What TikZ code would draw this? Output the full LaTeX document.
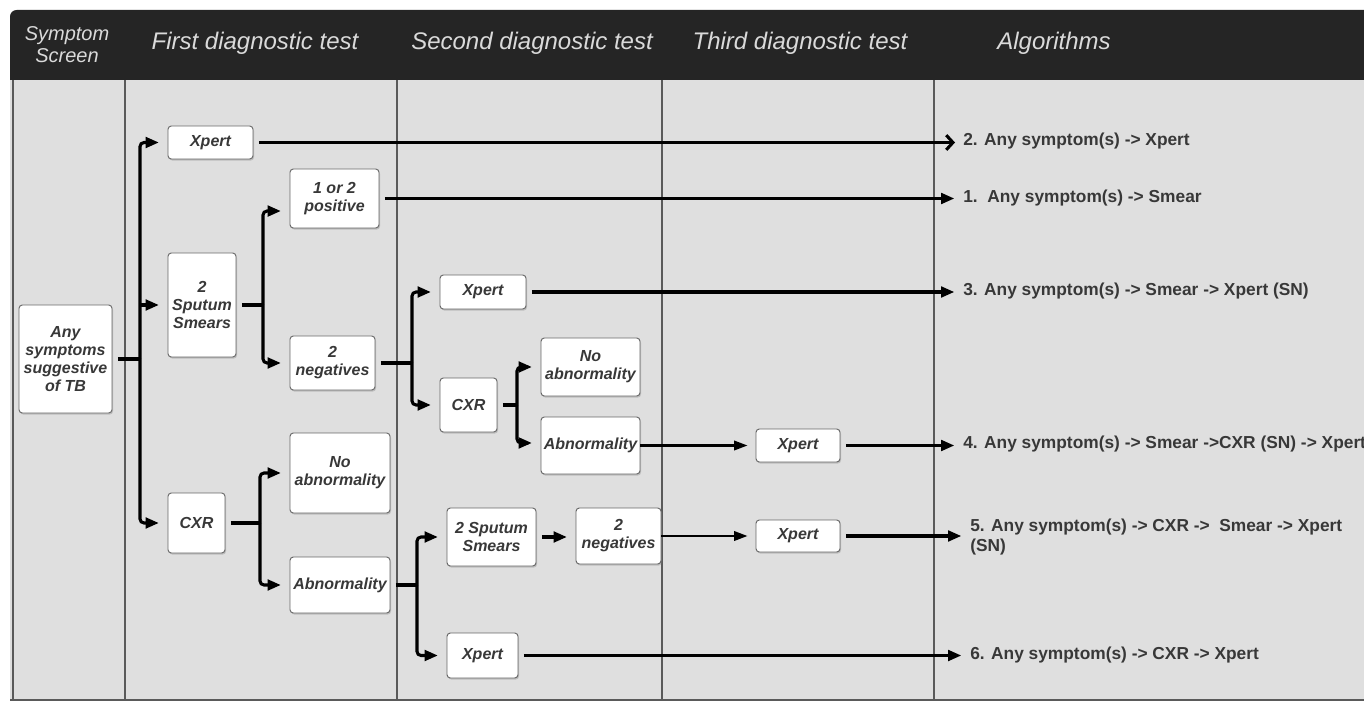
\documentclass[tikz,border=0pt]{standalone}
\usepackage{fontspec}
\setmainfont{Liberation Sans}
\usetikzlibrary{arrows.meta,shadows}
\definecolor{hdr}{HTML}{252525}
\definecolor{bodybg}{HTML}{DFDFDF}
\definecolor{colline}{HTML}{5A5A5A}
\definecolor{txt}{HTML}{383838}
\definecolor{hdrtxt}{HTML}{DADADA}
\begin{document}
\begin{tikzpicture}[x=0.75pt,y=-0.75pt,
  box/.style={draw=black!60, line width=0.7pt, fill=white, rounded corners=2.5pt,
    align=center, inner sep=1pt, text=txt,
    font=\fontsize{12}{13.5}\selectfont\bfseries\itshape,
    drop shadow={shadow xshift=0.8pt, shadow yshift=-1.2pt, opacity=0.35}},
  sz/.style 2 args={minimum width=#1*0.75pt, minimum height=#2*0.75pt},
  hd/.style={text=hdrtxt, align=center, font=\fontsize{18}{20}\selectfont\itshape},
  lab/.style={anchor=west, inner sep=0pt, text=txt, align=left,
    font=\fontsize{13}{15}\selectfont\bfseries},
  ln/.style={line width=2.3pt, rounded corners=3pt, draw=black},
  arr/.style={ln, -{Triangle[length=10pt,width=8pt]}, shorten >=6.5pt},
  thinarr/.style={line width=1.7pt, draw=black, -{Triangle[length=10pt,width=7pt]}, shorten >=6pt},
  barb/.style={line width=2.3pt, draw=black, -{Straight Barb[length=5pt,width=11pt]}, shorten >=6pt},
  colln/.style={draw=colline, line width=1.9pt}
]
\useasboundingbox (0,0) rectangle (1364,702);
\clip (0,0) rectangle (1364,702);

% background and header
\fill[bodybg] (10,80) rectangle (1370,700);
\fill[hdr] (10,80) [rounded corners=5pt] -- (10,10) [sharp corners] -- (1370,10) -- (1370,80) -- cycle;
\foreach \cx in {13,125,397,662,934} \draw[colln] (\cx,80) -- (\cx,700);
\draw[colln, line width=1.2pt] (10,700) -- (1370,700);

\node[hd, font=\fontsize{15}{17}\selectfont\itshape] (h0) at (67,44.5) {Symptom\\Screen};
\node[hd] (h1) at (255,43) {First diagnostic test};
\node[hd] (h2) at (532,43) {Second diagnostic test};
\node[hd] (h3) at (800,43) {Third diagnostic test};
\node[hd] (h4) at (1054,43) {Algorithms};

% boxes
\node[box, sz={93}{108}] (any) at (65.5,359) {Any\\symptoms\\suggestive\\of TB};
\node[box, sz={85}{33}] (xp1) at (210.5,142.5) {Xpert};
\node[box, sz={68}{104}] (sput) at (202,305) {2\\Sputum\\Smears};
\node[box, sz={89}{59}] (pos) at (334.5,198.5) {1 or 2\\positive};
\node[box, sz={85}{54}] (neg1) at (332.5,363) {2\\negatives};
\node[box, sz={86}{34}] (xp2) at (483,292) {Xpert};
\node[box, sz={57}{54}] (cxr2) at (468.5,405) {CXR};
\node[box, sz={99}{58}] (noab2) at (590.5,367) {No\\abnormality};
\node[box, sz={99}{57}] (abn2) at (590.5,445.5) {Abnormality};
\node[box, sz={84}{33}] (xp3) at (798,445.5) {Xpert};
\node[box, sz={57}{60}] (cxr1) at (196.5,523) {CXR};
\node[box, sz={100}{80}] (noab1) at (340,473) {No\\abnormality};
\node[box, sz={100}{56}] (abn1) at (340,585) {Abnormality};
\node[box, sz={89}{58}] (sp2) at (491.5,537) {2 Sputum\\Smears};
\node[box, sz={85}{56}] (neg2) at (618.5,536) {2\\negatives};
\node[box, sz={84}{32}] (xp4) at (798,536) {Xpert};
\node[box, sz={71}{45}] (xp5) at (482.5,655.5) {Xpert};

% algorithm labels
\node[lab] (lab2) at (963,141) {2. Any symptom(s) -> Xpert};
\node[lab] (lab1) at (963,198) {1.\ \ Any symptom(s) -> Smear};
\node[lab] (lab3) at (963,291) {3. Any symptom(s) -> Smear -> Xpert (SN)};
\node[lab] (lab4) at (963,444) {4. Any symptom(s) -> Smear ->CXR (SN) -> Xpert};
\node[lab] (lab5) at (970,537) {5. Any symptom(s) -> CXR ->\ \ Smear -> Xpert\\(SN)};
\node[lab] (lab6) at (970,655.5) {6. Any symptom(s) -> CXR -> Xpert};

% trunk coordinates
\coordinate (t1) at (140,0);
\coordinate (t2) at (263,0);
\coordinate (t3) at (412,0);
\coordinate (t4) at (517,0);
\coordinate (t5) at (260,0);
\coordinate (t6) at (417,0);

% symptom screen -> first tests
\draw[ln, shorten <=4pt] (any.east) -- (any.east -| t1);
\draw[arr] (any.east -| t1) |- (xp1.west);
\draw[arr] (t1 |- sput.west) -- (sput.west);
\draw[arr] (any.east -| t1) |- (cxr1.west);

% sputum smears branch
\draw[ln, shorten <=4pt] (sput.east) -- (sput.east -| t2);
\draw[arr] (sput.east -| t2) |- ([yshift=-9.4pt]pos.west);
\draw[arr] (sput.east -| t2) |- (neg1.west);

% 2 negatives branch
\draw[ln, shorten <=4pt] (neg1.east) -- (neg1.east -| t3);
\draw[arr] (neg1.east -| t3) |- (xp2.west);
\draw[arr] (neg1.east -| t3) |- (cxr2.west);

% CXR (second) branch
\draw[ln, shorten <=4pt] (cxr2.east) -- (cxr2.east -| t4);
\draw[arr] (cxr2.east -| t4) |- (noab2.west);
\draw[arr] (cxr2.east -| t4) |- ([yshift=1.9pt]abn2.west);
\draw[thinarr] (abn2.east) -- (xp3.west);

% CXR (first) branch
\draw[ln, shorten <=4pt] (cxr1.east) -- (cxr1.east -| t5);
\draw[arr] (cxr1.east -| t5) |- (noab1.west);
\draw[arr] (cxr1.east -| t5) |- (abn1.west);

% abnormality (first) branch
\draw[ln, shorten <=4pt] (abn1.east) -- (abn1.east -| t6);
\draw[arr] (abn1.east -| t6) |- (sp2.west);
\draw[arr] (abn1.east -| t6) |- (xp5.west);
\draw[arr, shorten <=4pt] (sp2.east) -- (sp2.east -| neg2.west);
\draw[thinarr] (neg2.east) -- (xp4.west);

% to algorithms
\draw[barb, shorten <=4pt] (xp1.east) -- (xp1.east -| lab2.west);
\draw[arr, shorten <=4pt] (pos.east) -- (pos.east -| lab1.west);
\draw[arr, shorten <=4pt] (xp2.east) -- (xp2.east -| lab3.west);
\draw[arr, shorten <=4pt] (xp3.east) -- (xp3.east -| lab4.west);
\draw[arr, shorten <=4pt] (xp4.east) -- (xp4.east -| lab5.west);
\draw[arr, shorten <=4pt] (xp5.east) -- (xp5.east -| lab6.west);
\end{tikzpicture}
\end{document}
